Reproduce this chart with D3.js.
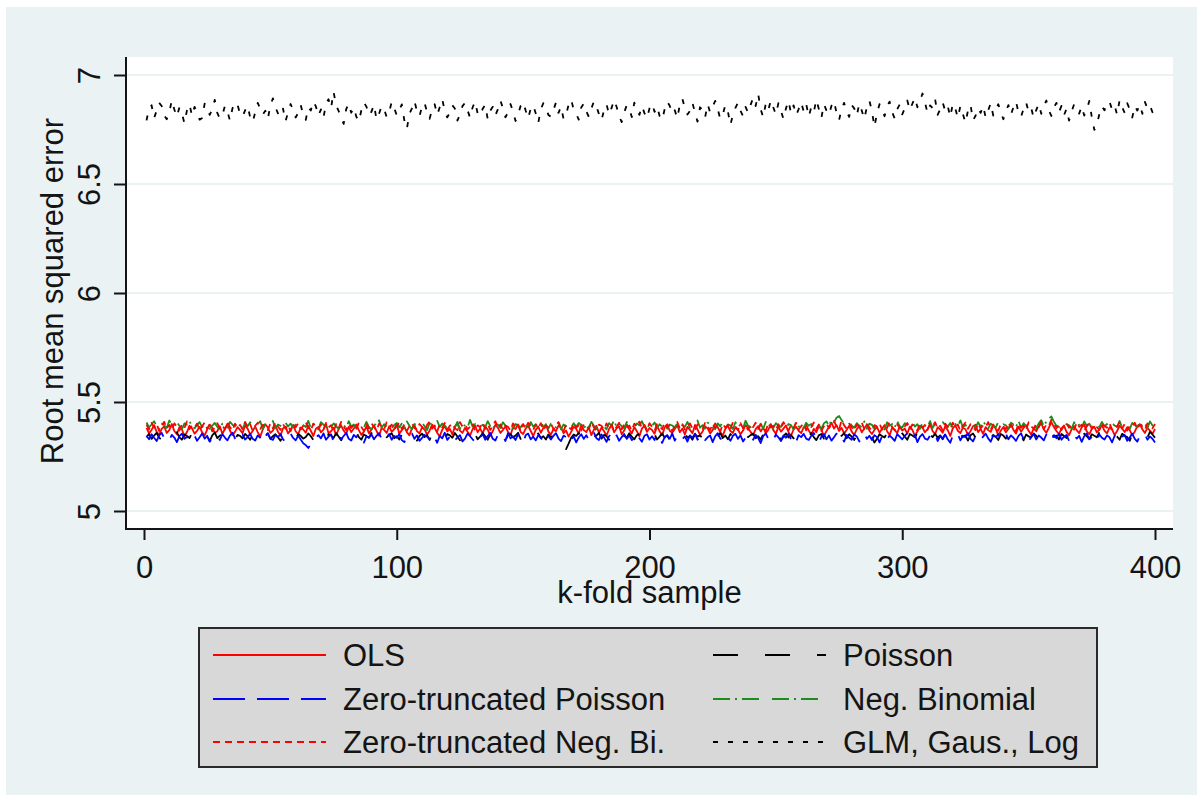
<!DOCTYPE html>
<html>
<head>
<meta charset="utf-8">
<script src="https://cdn.jsdelivr.net/npm/d3@7/dist/d3.min.js"></script>
<style>
  html, body { margin: 0; padding: 0; background: #ffffff; }
  svg { display: block; font-family: "Liberation Sans", Arial, sans-serif; }
</style>
</head>
<body>
<script>
// Root mean squared error for each of the 400 k-fold samples, by model.
const ols = [
5.381,5.356,5.372,5.394,5.363,5.349,5.377,5.388,5.358,5.371,5.399,5.367,5.352,5.384,5.375,5.343,5.362,5.391,5.379,5.355,
5.368,5.386,5.361,5.347,5.373,5.396,5.382,5.359,5.366,5.389,5.354,5.376,5.401,5.369,5.348,5.363,5.385,5.372,5.357,5.393,
5.378,5.351,5.367,5.387,5.362,5.341,5.374,5.398,5.383,5.358,5.369,5.392,5.364,5.346,5.379,5.387,5.356,5.371,5.395,5.366,
5.352,5.383,5.374,5.359,5.391,5.368,5.344,5.377,5.386,5.361,5.373,5.399,5.357,5.366,5.382,5.348,5.375,5.392,5.369,5.353,
5.386,5.362,5.378,5.397,5.371,5.349,5.364,5.388,5.356,5.374,5.393,5.367,5.345,5.381,5.372,5.358,5.389,5.363,5.376,5.398,
5.354,5.371,5.385,5.362,5.347,5.379,5.394,5.366,5.356,5.383,5.374,5.351,5.368,5.396,5.381,5.359,5.342,5.373,5.389,5.365,
5.377,5.352,5.386,5.403,5.369,5.358,5.381,5.364,5.347,5.375,5.392,5.361,5.379,5.355,5.388,5.373,5.346,5.366,5.395,5.382,
5.358,5.371,5.389,5.363,5.349,5.384,5.376,5.397,5.362,5.353,5.378,5.391,5.367,5.344,5.372,5.387,5.359,5.381,5.398,5.364,
5.351,5.375,5.366,5.392,5.383,5.357,5.369,5.341,5.363,5.386,5.377,5.354,5.396,5.371,5.362,5.384,5.348,5.373,5.391,5.359,
5.382,5.367,5.345,5.376,5.394,5.361,5.379,5.388,5.352,5.369,5.397,5.374,5.356,5.385,5.366,5.343,5.378,5.392,5.363,5.381,
5.372,5.354,5.389,5.366,5.347,5.383,5.398,5.368,5.359,5.376,5.393,5.361,5.378,5.351,5.386,5.372,5.357,5.395,5.374,5.349,
5.365,5.388,5.379,5.356,5.371,5.402,5.384,5.362,5.346,5.377,5.391,5.367,5.358,5.385,5.373,5.352,5.369,5.394,5.381,5.363,
5.348,5.376,5.389,5.365,5.383,5.357,5.372,5.399,5.371,5.354,5.387,5.364,5.378,5.392,5.361,5.345,5.374,5.386,5.368,5.357,
5.383,5.396,5.369,5.351,5.377,5.362,5.389,5.374,5.343,5.366,5.385,5.405,5.378,5.394,5.367,5.381,5.356,5.372,5.391,5.364,
5.349,5.375,5.388,5.361,5.379,5.397,5.368,5.353,5.372,5.386,5.359,5.377,5.394,5.366,5.348,5.382,5.373,5.357,5.389,5.369,
5.378,5.355,5.387,5.372,5.346,5.365,5.391,5.383,5.361,5.376,5.398,5.367,5.352,5.384,5.374,5.359,5.388,5.371,5.344,5.379,
5.393,5.368,5.357,5.382,5.375,5.349,5.366,5.389,5.396,5.362,5.377,5.354,5.385,5.371,5.363,5.392,5.378,5.347,5.369,5.384,
5.361,5.376,5.399,5.372,5.355,5.387,5.364,5.381,5.394,5.368,5.351,5.379,5.366,5.388,5.403,5.374,5.359,5.382,5.408,5.385,
5.367,5.353,5.378,5.392,5.363,5.348,5.374,5.389,5.371,5.357,5.384,5.396,5.365,5.352,5.377,5.386,5.361,5.373,5.394,5.369,
5.356,5.382,5.374,5.349,5.367,5.391,5.378,5.362,5.385,5.371,5.347,5.364,5.389,5.398,5.375,5.358,5.381,5.369,5.354,5.376
];

const poisson = [
5.339,5.354,5.331,5.346,5.358,5.337,5.325,5.349,5.342,5.356,5.333,5.345,5.361,5.338,5.327,5.351,5.344,5.335,5.357,5.341,
5.329,5.348,5.355,5.336,5.343,5.321,5.347,5.359,5.334,5.346,5.352,5.328,5.341,5.357,5.339,5.326,5.349,5.345,5.333,5.354,
5.342,5.327,5.351,5.339,5.358,5.336,5.324,5.347,5.355,5.331,5.343,5.352,5.338,5.322,5.346,5.357,5.334,5.349,5.341,5.328,
5.353,5.345,5.332,5.339,5.356,5.343,5.326,5.348,5.337,5.359,5.341,5.329,5.352,5.346,5.335,5.357,5.342,5.324,5.349,5.338,
5.355,5.333,5.346,5.362,5.339,5.327,5.351,5.344,5.336,5.358,5.331,5.347,5.342,5.325,5.353,5.338,5.349,5.356,5.334,5.343,
5.328,5.351,5.345,5.337,5.359,5.332,5.346,5.323,5.344,5.355,5.339,5.348,5.326,5.352,5.341,5.357,5.335,5.344,5.329,5.353,
5.347,5.336,5.358,5.342,5.324,5.349,5.338,5.355,5.333,5.346,5.352,5.329,5.341,5.357,5.343,5.327,5.351,5.339,5.348,5.334,
5.356,5.341,5.325,5.347,5.353,5.337,5.346,5.359,5.331,5.344,5.338,5.352,5.327,5.349,5.342,5.356,5.335,5.343,5.328,5.351,
5.339,5.347,5.331,5.352,5.338,5.316,5.284,5.309,5.336,5.351,5.344,5.357,5.333,5.348,5.341,5.326,5.354,5.339,5.346,5.358,
5.332,5.349,5.343,5.327,5.355,5.338,5.346,5.323,5.351,5.344,5.336,5.357,5.341,5.329,5.348,5.353,5.335,5.342,5.359,5.331,
5.345,5.352,5.328,5.341,5.356,5.337,5.347,5.325,5.343,5.354,5.339,5.331,5.349,5.358,5.336,5.344,5.327,5.352,5.341,5.347,
5.333,5.355,5.346,5.338,5.322,5.349,5.342,5.357,5.335,5.346,5.329,5.353,5.341,5.337,5.358,5.344,5.326,5.351,5.339,5.348,
5.355,5.334,5.343,5.328,5.352,5.346,5.339,5.357,5.331,5.345,5.349,5.324,5.341,5.356,5.337,5.348,5.333,5.354,5.343,5.327,
5.351,5.344,5.336,5.358,5.339,5.325,5.347,5.353,5.332,5.346,5.342,5.356,5.329,5.349,5.338,5.345,5.357,5.334,5.352,5.341,
5.326,5.348,5.343,5.355,5.336,5.321,5.346,5.339,5.314,5.331,5.352,5.344,5.337,5.358,5.342,5.329,5.351,5.345,5.333,5.356,
5.341,5.327,5.353,5.346,5.338,5.357,5.332,5.349,5.344,5.325,5.351,5.339,5.355,5.336,5.347,5.329,5.353,5.342,5.334,5.358,
5.345,5.331,5.352,5.339,5.347,5.323,5.348,5.356,5.337,5.344,5.351,5.328,5.342,5.357,5.335,5.349,5.341,5.326,5.353,5.346,
5.332,5.355,5.343,5.338,5.359,5.336,5.347,5.324,5.351,5.342,5.337,5.356,5.345,5.329,5.352,5.341,5.348,5.333,5.357,5.339,
5.346,5.328,5.353,5.344,5.335,5.358,5.341,5.326,5.349,5.347,5.336,5.355,5.342,5.331,5.352,5.345,5.338,5.361,5.349,5.333,
5.343,5.356,5.334,5.348,5.341,5.327,5.354,5.345,5.339,5.322,5.351,5.346,5.333,5.357,5.342,5.349,5.337,5.363,5.351,5.336
];

const ztPoisson = [
5.344,5.329,5.352,5.336,5.321,5.347,5.358,5.333,5.341,5.325,5.349,5.337,5.316,5.343,5.355,5.331,5.339,5.327,5.351,5.346,
5.322,5.338,5.356,5.332,5.345,5.318,5.334,5.349,5.341,5.326,5.353,5.337,5.324,5.346,5.359,5.333,5.319,5.342,5.351,5.328,
5.339,5.354,5.331,5.323,5.347,5.336,5.315,5.343,5.357,5.332,5.326,5.348,5.339,5.352,5.329,5.317,5.341,5.355,5.335,5.324,
5.346,5.328,5.311,5.302,5.289,5.305,5.321,5.337,5.348,5.333,5.356,5.327,5.341,5.352,5.319,5.336,5.347,5.329,5.344,5.358,
5.331,5.323,5.349,5.338,5.355,5.326,5.314,5.342,5.336,5.351,5.329,5.345,5.357,5.332,5.318,5.339,5.353,5.327,5.344,5.336,
5.352,5.325,5.316,5.343,5.338,5.356,5.331,5.347,5.322,5.335,5.349,5.341,5.328,5.354,5.337,5.313,5.345,5.333,5.359,5.326,
5.341,5.353,5.324,5.337,5.348,5.319,5.332,5.355,5.343,5.329,5.317,5.346,5.339,5.352,5.327,5.344,5.358,5.331,5.323,5.349,
5.336,5.345,5.321,5.357,5.333,5.342,5.326,5.351,5.338,5.314,5.347,5.355,5.329,5.341,5.324,5.348,5.336,5.319,5.353,5.343,
5.328,5.345,5.357,5.332,5.321,5.346,5.339,5.354,5.327,5.342,5.315,5.337,5.352,5.331,5.348,5.323,5.344,5.359,5.334,5.326,
5.351,5.338,5.317,5.343,5.356,5.329,5.347,5.322,5.339,5.353,5.331,5.346,5.325,5.341,5.357,5.334,5.318,5.345,5.352,5.328,
5.343,5.326,5.354,5.337,5.312,5.339,5.348,5.331,5.356,5.323,5.344,5.351,5.329,5.342,5.318,5.347,5.336,5.355,5.327,5.341,
5.352,5.325,5.338,5.346,5.316,5.343,5.357,5.332,5.328,5.351,5.339,5.322,5.345,5.354,5.331,5.347,5.319,5.336,5.353,5.341,
5.327,5.349,5.335,5.312,5.344,5.356,5.331,5.342,5.325,5.351,5.338,5.321,5.347,5.336,5.355,5.329,5.343,5.317,5.348,5.339,
5.354,5.332,5.326,5.345,5.358,5.337,5.314,5.341,5.352,5.329,5.346,5.323,5.338,5.355,5.333,5.344,5.318,5.349,5.336,5.327,
5.351,5.342,5.319,5.337,5.356,5.331,5.345,5.325,5.348,5.339,5.315,5.343,5.353,5.328,5.346,5.335,5.322,5.352,5.341,5.329,
5.344,5.357,5.326,5.338,5.349,5.316,5.341,5.353,5.332,5.327,5.346,5.339,5.355,5.321,5.343,5.334,5.351,5.329,5.313,5.347,
5.336,5.352,5.324,5.345,5.338,5.357,5.331,5.319,5.344,5.349,5.327,5.341,5.355,5.333,5.318,5.346,5.339,5.352,5.325,5.343,
5.354,5.329,5.347,5.336,5.322,5.345,5.356,5.331,5.339,5.315,5.342,5.353,5.328,5.346,5.337,5.324,5.351,5.343,5.319,5.348,
5.334,5.355,5.327,5.341,5.349,5.321,5.338,5.352,5.332,5.345,5.317,5.343,5.356,5.329,5.339,5.346,5.323,5.351,5.336,5.328,
5.347,5.338,5.315,5.344,5.353,5.326,5.341,5.349,5.322,5.337,5.355,5.331,5.318,5.345,5.339,5.352,5.327,5.342,5.331,5.314
];

const negBin = [
5.406,5.383,5.397,5.412,5.389,5.376,5.401,5.393,5.381,5.415,5.398,5.385,5.407,5.391,5.374,5.402,5.396,5.413,5.387,5.379,
5.395,5.408,5.384,5.399,5.411,5.377,5.392,5.404,5.386,5.373,5.401,5.394,5.382,5.409,5.396,5.388,5.416,5.391,5.378,5.403,
5.389,5.407,5.395,5.381,5.398,5.412,5.375,5.404,5.392,5.386,5.413,5.379,5.397,5.391,5.372,5.405,5.388,5.401,5.383,5.396,
5.377,5.403,5.394,5.385,5.414,5.381,5.399,5.392,5.374,5.408,5.396,5.387,5.411,5.383,5.402,5.389,5.376,5.405,5.393,5.382,
5.412,5.388,5.397,5.379,5.403,5.395,5.383,5.409,5.386,5.373,5.401,5.392,5.416,5.382,5.398,5.387,5.407,5.377,5.395,5.404,
5.384,5.401,5.379,5.411,5.391,5.375,5.399,5.394,5.383,5.408,5.388,5.371,5.403,5.396,5.381,5.413,5.386,5.401,5.392,5.378,
5.406,5.395,5.384,5.409,5.376,5.398,5.391,5.382,5.418,5.387,5.399,5.379,5.404,5.393,5.385,5.412,5.389,5.374,5.402,5.396,
5.381,5.407,5.392,5.386,5.411,5.377,5.399,5.391,5.383,5.403,5.395,5.376,5.408,5.387,5.398,5.380,5.414,5.385,5.396,5.378,
5.401,5.392,5.383,5.406,5.374,5.397,5.388,5.411,5.382,5.403,5.386,5.404,5.395,5.377,5.399,5.384,5.409,5.391,5.379,5.407,
5.398,5.387,5.375,5.403,5.392,5.416,5.382,5.401,5.389,5.379,5.408,5.396,5.384,5.378,5.402,5.393,5.412,5.386,5.376,5.399,
5.391,5.406,5.381,5.398,5.387,5.413,5.377,5.397,5.392,5.383,5.404,5.374,5.395,5.386,5.409,5.380,5.399,5.391,5.415,5.382,
5.394,5.378,5.405,5.399,5.385,5.375,5.402,5.388,5.411,5.381,5.397,5.393,5.376,5.407,5.386,5.396,5.379,5.414,5.391,5.384,
5.404,5.395,5.382,5.401,5.377,5.409,5.388,5.398,5.380,5.403,5.392,5.385,5.412,5.378,5.399,5.394,5.374,5.408,5.387,5.396,
5.381,5.405,5.391,5.399,5.384,5.414,5.395,5.377,5.402,5.411,5.389,5.419,5.406,5.428,5.436,5.417,5.399,5.386,5.407,5.393,
5.382,5.403,5.392,5.385,5.411,5.377,5.401,5.395,5.380,5.405,5.397,5.386,5.374,5.407,5.391,5.399,5.381,5.413,5.388,5.383,
5.403,5.394,5.379,5.409,5.387,5.398,5.376,5.406,5.392,5.384,5.412,5.381,5.401,5.391,5.377,5.408,5.395,5.386,5.404,5.380,
5.399,5.388,5.416,5.383,5.396,5.375,5.402,5.392,5.382,5.407,5.386,5.411,5.395,5.378,5.401,5.391,5.384,5.409,5.379,5.398,
5.393,5.376,5.405,5.399,5.385,5.414,5.381,5.403,5.389,5.384,5.408,5.396,5.380,5.402,5.417,5.388,5.411,5.423,5.434,5.409,
5.391,5.385,5.404,5.381,5.399,5.393,5.377,5.407,5.387,5.396,5.383,5.411,5.390,5.401,5.379,5.403,5.394,5.385,5.409,5.388,
5.399,5.378,5.405,5.392,5.386,5.413,5.382,5.398,5.394,5.376,5.404,5.395,5.384,5.408,5.389,5.401,5.380,5.411,5.392,5.403
];

const ztNegBin = [
5.396,5.374,5.404,5.383,5.399,5.367,5.391,5.409,5.378,5.395,5.372,5.402,5.386,5.369,5.397,5.381,5.411,5.376,5.393,5.384,
5.401,5.371,5.389,5.406,5.377,5.398,5.365,5.387,5.403,5.379,5.393,5.374,5.408,5.385,5.369,5.401,5.381,5.395,5.375,5.409,
5.383,5.398,5.368,5.391,5.405,5.376,5.396,5.386,5.371,5.402,5.379,5.407,5.388,5.372,5.399,5.378,5.394,5.366,5.397,5.384,
5.403,5.374,5.391,5.408,5.381,5.369,5.401,5.386,5.376,5.397,5.373,5.404,5.383,5.394,5.364,5.399,5.379,5.409,5.388,5.371,
5.399,5.381,5.393,5.374,5.406,5.386,5.367,5.398,5.378,5.403,5.384,5.369,5.401,5.389,5.375,5.407,5.382,5.396,5.372,5.391,
5.405,5.377,5.397,5.368,5.388,5.402,5.381,5.373,5.399,5.386,5.371,5.395,5.409,5.378,5.392,5.365,5.399,5.383,5.404,5.374,
5.391,5.401,5.379,5.371,5.408,5.387,5.396,5.375,5.386,5.403,5.368,5.393,5.384,5.406,5.377,5.398,5.372,5.389,5.412,5.381,
5.397,5.373,5.392,5.386,5.369,5.402,5.382,5.396,5.366,5.399,5.378,5.405,5.388,5.372,5.396,5.381,5.403,5.371,5.391,5.384,
5.401,5.375,5.395,5.408,5.379,5.367,5.397,5.386,5.374,5.404,5.382,5.393,5.369,5.399,5.387,5.376,5.407,5.384,5.371,5.396,
5.391,5.373,5.402,5.379,5.397,5.366,5.387,5.405,5.375,5.398,5.381,5.392,5.370,5.401,5.386,5.410,5.378,5.395,5.372,5.403,
5.386,5.368,5.399,5.389,5.375,5.406,5.382,5.396,5.367,5.392,5.408,5.379,5.398,5.373,5.389,5.402,5.378,5.369,5.397,5.386,
5.377,5.404,5.387,5.371,5.401,5.381,5.393,5.364,5.399,5.383,5.395,5.374,5.407,5.386,5.370,5.403,5.379,5.391,5.372,5.399,
5.385,5.405,5.376,5.396,5.388,5.368,5.402,5.383,5.391,5.373,5.398,5.378,5.408,5.386,5.369,5.395,5.381,5.404,5.374,5.389,
5.401,5.370,5.393,5.385,5.406,5.377,5.397,5.367,5.389,5.403,5.380,5.399,5.413,5.387,5.372,5.417,5.393,5.378,5.401,5.384,
5.369,5.396,5.386,5.405,5.375,5.398,5.383,5.366,5.394,5.388,5.402,5.373,5.391,5.381,5.409,5.386,5.370,5.399,5.379,5.393,
5.388,5.404,5.374,5.397,5.385,5.368,5.403,5.381,5.395,5.372,5.399,5.389,5.407,5.378,5.391,5.370,5.401,5.386,5.375,5.405,
5.383,5.396,5.367,5.391,5.406,5.377,5.398,5.387,5.371,5.402,5.379,5.393,5.385,5.408,5.373,5.397,5.382,5.369,5.399,5.389,
5.375,5.404,5.385,5.395,5.366,5.401,5.383,5.392,5.372,5.407,5.388,5.378,5.399,5.384,5.411,5.376,5.396,5.389,5.419,5.405,
5.380,5.398,5.371,5.391,5.402,5.382,5.394,5.373,5.404,5.386,5.396,5.368,5.389,5.406,5.377,5.398,5.385,5.372,5.401,5.390,
5.382,5.403,5.374,5.393,5.386,5.408,5.378,5.399,5.369,5.392,5.388,5.405,5.376,5.397,5.384,5.372,5.402,5.391,5.379,5.399
];

const glmGausLog = [
6.792,6.847,6.861,6.803,6.836,6.872,6.858,6.815,6.797,6.829,6.884,6.842,6.808,6.851,6.823,6.779,6.838,6.866,6.812,6.854,
6.831,6.795,6.803,6.869,6.848,6.817,6.842,6.886,6.826,6.801,6.815,6.858,6.833,6.791,6.847,6.875,6.864,6.822,6.809,6.838,
6.859,6.806,6.784,6.829,6.872,6.845,6.818,6.836,6.799,6.861,6.893,6.852,6.824,6.811,6.846,6.788,6.829,6.867,6.840,6.805,
6.826,6.862,6.818,6.794,6.851,6.837,6.879,6.856,6.813,6.842,6.803,6.868,6.889,6.847,6.923,6.861,6.835,6.802,6.776,6.843,
6.869,6.827,6.851,6.809,6.787,6.838,6.874,6.855,6.816,6.832,6.864,6.796,6.822,6.858,6.845,6.807,6.831,6.876,6.849,6.814,
6.838,6.865,6.792,6.753,6.821,6.847,6.881,6.834,6.811,6.856,6.873,6.828,6.799,6.843,6.866,6.817,6.852,6.889,6.835,6.806,
6.827,6.861,6.846,6.791,6.818,6.857,6.872,6.839,6.804,6.851,6.878,6.824,6.812,6.845,6.863,6.797,6.836,6.854,6.815,6.842,
6.883,6.849,6.806,6.828,6.867,6.833,6.789,6.819,6.858,6.876,6.837,6.801,6.846,6.862,6.823,6.781,6.843,6.871,6.852,6.817,
6.809,6.839,6.874,6.826,6.855,6.798,6.817,6.864,6.888,6.841,6.822,6.795,6.851,6.869,6.833,6.808,6.846,6.879,6.857,6.821,
6.792,6.838,6.866,6.819,6.849,6.886,6.853,6.811,6.784,6.829,6.861,6.844,6.807,6.873,6.836,6.817,6.858,6.825,6.802,6.847,
6.869,6.831,6.856,6.812,6.794,6.843,6.878,6.859,6.822,6.838,6.801,6.864,6.891,6.848,6.819,6.835,6.872,6.827,6.786,6.852,
6.839,6.806,6.866,6.828,6.855,6.881,6.843,6.799,6.818,6.862,6.834,6.771,6.817,6.849,6.873,6.836,6.811,6.854,6.827,6.863,
6.895,6.858,6.913,6.842,6.806,6.868,6.839,6.884,6.851,6.819,6.871,6.836,6.798,6.847,6.882,6.824,6.861,6.815,6.843,6.876,
6.833,6.867,6.809,6.852,6.829,6.887,6.844,6.803,6.866,6.838,6.817,6.859,6.881,6.826,6.793,6.845,6.872,6.831,6.808,6.862,
6.847,6.813,6.869,6.836,6.798,6.854,6.882,6.835,6.762,6.824,6.866,6.838,6.811,6.857,6.878,6.829,6.801,6.843,6.865,6.819,
6.847,6.883,6.839,6.868,6.896,6.852,6.879,6.915,6.873,6.826,6.861,6.848,6.889,6.817,6.842,6.874,6.835,6.858,6.807,6.869,
6.846,6.803,6.858,6.821,6.781,6.837,6.864,6.792,6.813,6.848,6.826,6.859,6.805,6.838,6.871,6.814,6.843,6.866,6.829,6.797,
6.834,6.862,6.818,6.853,6.879,6.826,6.808,6.845,6.874,6.831,6.849,6.804,6.839,6.868,6.822,6.856,6.883,6.837,6.812,6.851,
6.872,6.829,6.858,6.816,6.845,6.791,6.832,6.866,6.849,6.823,6.857,6.814,6.839,6.881,6.806,6.748,6.772,6.821,6.856,6.838,
6.867,6.879,6.842,6.861,6.818,6.885,6.853,6.826,6.871,6.843,6.805,6.858,6.837,6.864,6.822,6.877,6.846,6.861,6.829,6.853
];

// Axis ticks and labels
const yTicks = [5, 5.5, 6, 6.5, 7];
const xTicks = [0, 100, 200, 300, 400];
const yTitle = "Root mean squared error";
const xTitle = "k-fold sample";

// Series in plotting order, with their legend slot (column, row)
const series = [
  { name: "OLS", values: ols, color: "#ff0000", dash: null, col: 0, row: 0 },
  { name: "Poisson", values: poisson, color: "#000000", dash: "25,27", col: 1, row: 0 },
  { name: "Zero-truncated Poisson", values: ztPoisson, color: "#0000ff", dash: "32,12", col: 0, row: 1 },
  { name: "Neg. Binomial", values: negBin, color: "#1c8c1c", dash: "17,5,2,5,17,13", col: 1, row: 1 },
  { name: "Zero-truncated Neg. Bi.", values: ztNegBin, color: "#ff0000", dash: "7,5", col: 0, row: 2 },
  { name: "GLM, Gaus., Log", values: glmGausLog, color: "#000000", dash: "5,10", col: 1, row: 2 }
];

const W = 1204, H = 801;
const plot = { left: 126, right: 1173, top: 57, bottom: 529 };
const bg = "#eaf2f3";
const ink = "#141414";
const fontPx = "31px";

const svg = d3.select("body").append("svg").attr("width", W).attr("height", H);

svg.append("rect").attr("width", W).attr("height", H).attr("fill", "#ffffff");
svg.append("rect").attr("x", 6).attr("y", 7).attr("width", 1191).attr("height", 788).attr("fill", bg);
svg.append("rect")
  .attr("x", plot.left).attr("y", plot.top)
  .attr("width", plot.right - plot.left).attr("height", plot.bottom - plot.top)
  .attr("fill", "#ffffff");

const x = d3.scaleLinear().domain([0, 400]).range([144, 1155]);
const y = d3.scaleLinear().domain([5, 7]).range([511, 75]);

// Horizontal grid lines at the y ticks
svg.append("g").selectAll("line").data(yTicks).join("line")
  .attr("x1", plot.left).attr("x2", plot.right)
  .attr("y1", d => y(d)).attr("y2", d => y(d))
  .attr("stroke", bg).attr("stroke-width", 2);

svg.append("clipPath").attr("id", "plotClip")
  .append("rect")
  .attr("x", plot.left).attr("y", plot.top)
  .attr("width", plot.right - plot.left).attr("height", plot.bottom - plot.top);

const line = d3.line().x((d, i) => x(i + 1)).y(d => y(d));

const lines = svg.append("g").attr("clip-path", "url(#plotClip)");
series.forEach(s => {
  lines.append("path")
    .datum(s.values)
    .attr("d", line)
    .attr("fill", "none")
    .attr("stroke", s.color)
    .attr("stroke-width", 1.8)
    .attr("stroke-linejoin", "round")
    .attr("stroke-dasharray", s.dash);
});

// Y axis
const yAxis = svg.append("g")
  .attr("transform", `translate(${plot.left},0)`)
  .call(d3.axisLeft(y).tickValues(yTicks).tickSize(12).tickFormat(d3.format("~g")));
yAxis.select(".domain").remove();
yAxis.selectAll(".tick line").attr("stroke", ink).attr("stroke-width", 2);
yAxis.selectAll(".tick text")
  .attr("transform", "rotate(-90)")
  .attr("x", 0).attr("y", -26).attr("dy", 0)
  .attr("text-anchor", "middle")
  .attr("fill", ink)
  .style("font-size", fontPx)
  .style("font-family", '"Liberation Sans", Arial, sans-serif');
svg.append("line")
  .attr("x1", plot.left).attr("x2", plot.left)
  .attr("y1", plot.top).attr("y2", plot.bottom + 1)
  .attr("stroke", ink).attr("stroke-width", 2);

// X axis
const xAxis = svg.append("g")
  .attr("transform", `translate(0,${plot.bottom})`)
  .call(d3.axisBottom(x).tickValues(xTicks).tickSize(11));
xAxis.select(".domain").remove();
xAxis.selectAll(".tick line").attr("stroke", ink).attr("stroke-width", 2);
xAxis.selectAll(".tick text")
  .attr("y", 49).attr("dy", 0)
  .attr("fill", ink)
  .style("font-size", fontPx)
  .style("font-family", '"Liberation Sans", Arial, sans-serif');
svg.append("line")
  .attr("x1", plot.left - 1).attr("x2", plot.right)
  .attr("y1", plot.bottom).attr("y2", plot.bottom)
  .attr("stroke", ink).attr("stroke-width", 2);

// Axis titles
svg.append("text")
  .attr("transform", `translate(63,${(plot.top + plot.bottom) / 2 - 2}) rotate(-90)`)
  .attr("text-anchor", "middle")
  .attr("fill", ink)
  .style("font-size", fontPx)
  .text(yTitle);
svg.append("text")
  .attr("x", (plot.left + plot.right) / 2).attr("y", 603)
  .attr("text-anchor", "middle")
  .attr("fill", ink)
  .style("font-size", fontPx)
  .text(xTitle);

// Legend
const legend = svg.append("g");
legend.append("rect")
  .attr("x", 199).attr("y", 628).attr("width", 898).attr("height", 139)
  .attr("fill", "#d8d8d8").attr("stroke", "#2a2a2a").attr("stroke-width", 2);
const colX = [213, 713];
const rowY = [655, 699, 742];
series.forEach(s => {
  const lx = colX[s.col], ly = rowY[s.row];
  legend.append("line")
    .attr("x1", lx).attr("x2", lx + 113)
    .attr("y1", ly).attr("y2", ly)
    .attr("stroke", s.color).attr("stroke-width", 1.8)
    .attr("stroke-dasharray", s.dash);
  legend.append("text")
    .attr("x", lx + 130).attr("y", ly + 11)
    .attr("fill", ink)
    .style("font-size", fontPx)
    .text(s.name);
});
</script>
</body>
</html>
